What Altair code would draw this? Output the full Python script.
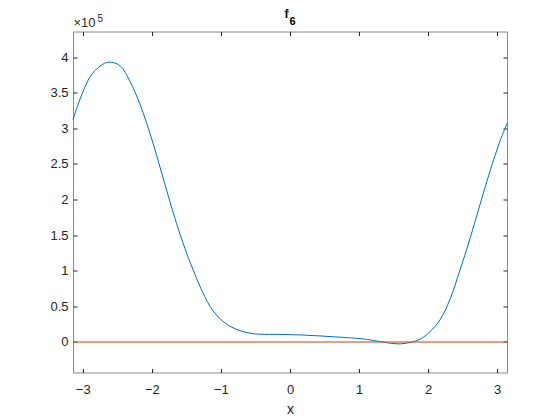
import math
import altair as alt
import pandas as pd

# f_6 curve, values (y in units of 1e5)
x_vals = [-3.1416, -3.04, -2.896, -2.75, -2.62, -2.461, -2.317, -2.172, -2.075,
          -1.979, -1.882, -1.786, -1.69, -1.593, -1.496, -1.40, -1.303, -1.158, -1.013,
          -0.869, -0.724, -0.579, -0.434, -0.145, 0.145, 0.434, 0.724, 1.013, 1.158,
          1.303, 1.448, 1.593, 1.737, 1.882, 2.027, 2.172, 2.317, 2.461, 2.606,
          2.751, 2.896, 3.04, 3.1416]
y_vals = [3.12, 3.41, 3.72, 3.875, 3.93, 3.88, 3.66, 3.34, 3.07,
          2.78, 2.455, 2.13, 1.81, 1.515, 1.245, 1.005, 0.78, 0.50, 0.325,
          0.22, 0.158, 0.122, 0.108, 0.105, 0.098, 0.084, 0.066, 0.046, 0.028,
          0.004, -0.018, -0.028, -0.008, 0.037, 0.144, 0.31, 0.60, 1.01, 1.45,
          1.93, 2.40, 2.82, 3.07]

# zero reference line
zero_x = [-math.pi, math.pi]
zero_y = [0.0, 0.0]

x_ticks = [-3, -2, -1, 0, 1, 2, 3]
y_ticks = [0, 0.5, 1, 1.5, 2, 2.5, 3, 3.5, 4]

x_domain = [-math.pi, math.pi]
y_domain = [-0.43, 4.36]

curve = pd.DataFrame({"x": x_vals, "y": y_vals})
zero = pd.DataFrame({"x": zero_x, "y": zero_y})

FONT = "Liberation Sans"
TXT = "#262626"
TICK = "#262626"

xs = alt.Scale(domain=x_domain, nice=False, zero=False)
ys = alt.Scale(domain=y_domain, nice=False, zero=False)

# main line with labelled axes
blue = alt.Chart(curve).mark_line(color="#0072BD", strokeWidth=1, interpolate="catmull-rom").encode(
    x=alt.X("x:Q", scale=xs, title="x",
            axis=alt.Axis(orient="bottom", values=x_ticks, domain=False, ticks=False,
                          grid=False, labelPadding=11, titlePadding=6, labelFontSize=13,
                          titleFontSize=14, titleFontWeight="normal", labelColor=TXT,
                          titleColor=TXT, labelFont=FONT, titleFont=FONT, format="d")),
    y=alt.Y("y:Q", scale=ys, title=None,
            axis=alt.Axis(orient="left", values=y_ticks, domain=False, ticks=False,
                          grid=False, labelPadding=5, labelFontSize=13, labelColor=TXT,
                          labelFont=FONT, format="~g")),
)

# zero line with inward ticks on bottom / left
orange = alt.Chart(zero).mark_line(color="#D95319", strokeWidth=1.5, opacity=0.75).encode(
    x=alt.X("x:Q", scale=xs, title=None,
            axis=alt.Axis(orient="bottom", values=x_ticks, domain=False, labels=False,
                          grid=False, ticks=True, tickSize=4, tickColor=TICK, offset=-4)),
    y=alt.Y("y:Q", scale=ys, title=None,
            axis=alt.Axis(orient="left", values=y_ticks, domain=False, labels=False,
                          grid=False, ticks=True, tickSize=4, tickColor=TICK, offset=-4)),
)

# invisible layer carrying inward ticks on top / right
mirror = alt.Chart(zero).mark_line(opacity=0).encode(
    x=alt.X("x:Q", scale=xs, title=None,
            axis=alt.Axis(orient="top", values=x_ticks, domain=False, labels=False,
                          grid=False, ticks=True, tickSize=4, tickColor=TICK, offset=-4)),
    y=alt.Y("y:Q", scale=ys, title=None,
            axis=alt.Axis(orient="right", values=y_ticks, domain=False, labels=False,
                          grid=False, ticks=True, tickSize=4, tickColor=TICK, offset=-4)),
)

title_f = alt.Chart().mark_text(text="f", font=FONT, fontSize=12, fontWeight="bold",
                                color="#000000", align="center", baseline="alphabetic").encode(
    x=alt.value(213.5), y=alt.value(-14))
title_6 = alt.Chart().mark_text(text="6", font=FONT, fontSize=11, fontWeight="bold",
                                color="#000000", align="center", baseline="alphabetic").encode(
    x=alt.value(219.5), y=alt.value(-6.5))
exp_a = alt.Chart().mark_text(text="×10", font=FONT, fontSize=13, color=TXT,
                              align="left", baseline="alphabetic").encode(
    x=alt.value(0.5), y=alt.value(-4.5))
exp_b = alt.Chart().mark_text(text="5", font=FONT, fontSize=10, color=TXT,
                              align="left", baseline="alphabetic").encode(
    x=alt.value(24.5), y=alt.value(-10))

chart = alt.layer(blue, orange, mirror, title_f, title_6, exp_a, exp_b).resolve_axis(
    x="independent", y="independent"
).properties(
    width=434, height=341,
    autosize=alt.AutoSizeParams(type="none"),
    padding={"left": 65, "top": 23.5, "right": 45, "bottom": 47},
    background="#ffffff",
).configure_view(stroke="#8a8a8a", strokeWidth=1)

chart.save("out.html", embed_options={"renderer": "svg", "actions": False})
